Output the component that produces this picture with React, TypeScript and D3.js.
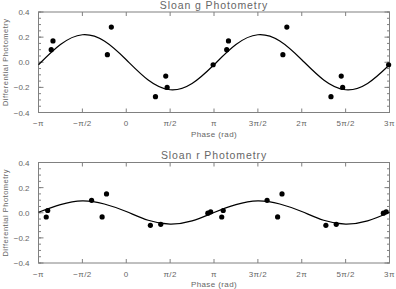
import React from 'react';
import * as d3 from 'd3';

// phases in units of pi, one cycle; each point is also drawn at +/- 2 pi
const gPhase = [-0.855, -0.835, -0.215, -0.17, 0.333, 0.45, 0.466, 0.99];
const gValue = [0.1, 0.17, 0.06, 0.28, -0.274, -0.11, -0.2, -0.02];
const rPhase = [-0.912, -0.895, -0.395, -0.275, -0.225, 0.275, 0.393, 0.93, 0.962];
const rValue = [-0.034, 0.018, 0.099, -0.033, 0.15, -0.1, -0.092, -0.003, 0.007];

// fitted curves read at every pi/4 from -pi to 3pi
const fitPhase = [-1, -0.75, -0.5, -0.25, 0, 0.25, 0.5, 0.75, 1, 1.25, 1.5, 1.75, 2, 2.25, 2.5, 2.75, 3];
const gFit = [-0.02, 0.141, 0.219, 0.169, 0.02, -0.141, -0.219, -0.169, -0.02, 0.141, 0.219, 0.169, 0.02, -0.141, -0.219, -0.169, -0.02];
const rFit = [0.004, 0.065, 0.095, 0.07, 0.01, -0.06, -0.09, -0.065, 0.002, 0.065, 0.095, 0.07, 0.01, -0.06, -0.09, -0.065, 0.004];

const xTicks = [-1, -0.5, 0, 0.5, 1, 1.5, 2, 2.5, 3];
const xTickLabels = ['\u2212\u03c0', '\u2212\u03c0/2', '0', '\u03c0/2', '\u03c0', '3\u03c0/2', '2\u03c0', '5\u03c0/2', '3\u03c0'];
const yTicks = [0.4, 0.2, 0, -0.2, -0.4];
const yTickLabels = ['0.4', '0.2', '0.0', '\u22120.2', '\u22120.4'];
const yMinor = d3.range(-0.4, 0.401, 0.05);
const cycleShifts = [-2, 0, 2];

const width = 396;
const height = 289;
const font = '"Liberation Sans", "DejaVu Sans", sans-serif';
const textColor = '#666';
const axisColor = '#808080';

const x = d3.scaleLinear().domain([-1, 3]).range([38.5, 389.5]);

type PanelProps = {
  title: string;
  phase: number[];
  value: number[];
  fit: number[];
  top: number;
  bottom: number;
};

const Panel = ({ title, phase, value, fit, top, bottom }: PanelProps) => {
  const y = d3.scaleLinear().domain([-0.4, 0.4]).range([bottom, top]);
  const [x0, x1] = x.range();

  const line = d3.line<number>()
    .x((_, i) => x(fitPhase[i]))
    .y(d => y(d))
    .curve(d3.curveNatural);

  // phase-folded points repeated every 2 pi
  const dots: { p: number; v: number }[] = [];
  cycleShifts.forEach(s => {
    phase.forEach((p, i) => {
      const ps = p + s;
      if (ps >= -1 && ps <= 3) dots.push({ p: ps, v: value[i] });
    });
  });

  const cx = (x0 + x1) / 2;
  const cy = (top + bottom) / 2;

  return (
    <g>
      <text x={cx} y={top - 3.5} textAnchor="middle" fontSize={10.5} fill={textColor} fontFamily={font} letterSpacing={0.9}>
        {title}
      </text>
      <rect x={x0} y={top} width={x1 - x0} height={bottom - top} fill="none" stroke={axisColor} strokeWidth={1} />

      {xTicks.map((t, i) => (
        <g key={'xt' + i}>
          <line x1={x(t)} x2={x(t)} y1={bottom} y2={bottom - 4} stroke={axisColor} />
          <line x1={x(t)} x2={x(t)} y1={top} y2={top + 4} stroke={axisColor} />
          <text x={x(t)} y={bottom + 13.5} textAnchor="middle" fontSize={8} fill={textColor} fontFamily={font} letterSpacing={0.4}>
            {xTickLabels[i]}
          </text>
        </g>
      ))}

      {yMinor.map((t, i) => (
        <g key={'ym' + i}>
          <line x1={x0} x2={x0 + 2.5} y1={y(t)} y2={y(t)} stroke={axisColor} />
          <line x1={x1} x2={x1 - 2.5} y1={y(t)} y2={y(t)} stroke={axisColor} />
        </g>
      ))}

      {yTicks.map((t, i) => (
        <g key={'yt' + i}>
          <line x1={x0} x2={x0 + 5} y1={y(t)} y2={y(t)} stroke={axisColor} />
          <line x1={x1} x2={x1 - 5} y1={y(t)} y2={y(t)} stroke={axisColor} />
          <text x={x0 - 9} y={y(t) + 3} textAnchor="end" fontSize={8} fill={textColor} fontFamily={font}>
            {yTickLabels[i]}
          </text>
        </g>
      ))}

      <text x={cx} y={bottom + 24} textAnchor="middle" fontSize={8} fill={textColor} fontFamily={font} letterSpacing={0.4}>
        Phase (rad)
      </text>
      <text transform={`translate(8,${cy}) rotate(-90)`} textAnchor="middle" fontSize={7.5} fill={textColor} fontFamily={font} letterSpacing={0.5}>
        Differential Photometry
      </text>

      <path d={line(fit) || ''} fill="none" stroke="#000" strokeWidth={1.2} />

      {dots.map((d, i) => (
        <circle key={'d' + i} cx={x(d.p)} cy={y(d.v)} r={2.6} fill="#000" />
      ))}
    </g>
  );
};

export default function App() {
  return (
    <svg
      width={width}
      height={height}
      style={{ position: 'absolute', left: 0, top: 0, background: '#fff' }}
    >
      <rect width={width} height={height} fill="#fff" />
      <Panel title="Sloan g Photometry" phase={gPhase} value={gValue} fit={gFit} top={12} bottom={112.5} />
      <Panel title="Sloan r Photometry" phase={rPhase} value={rValue} fit={rFit} top={162.5} bottom={263} />
    </svg>
  );
}
